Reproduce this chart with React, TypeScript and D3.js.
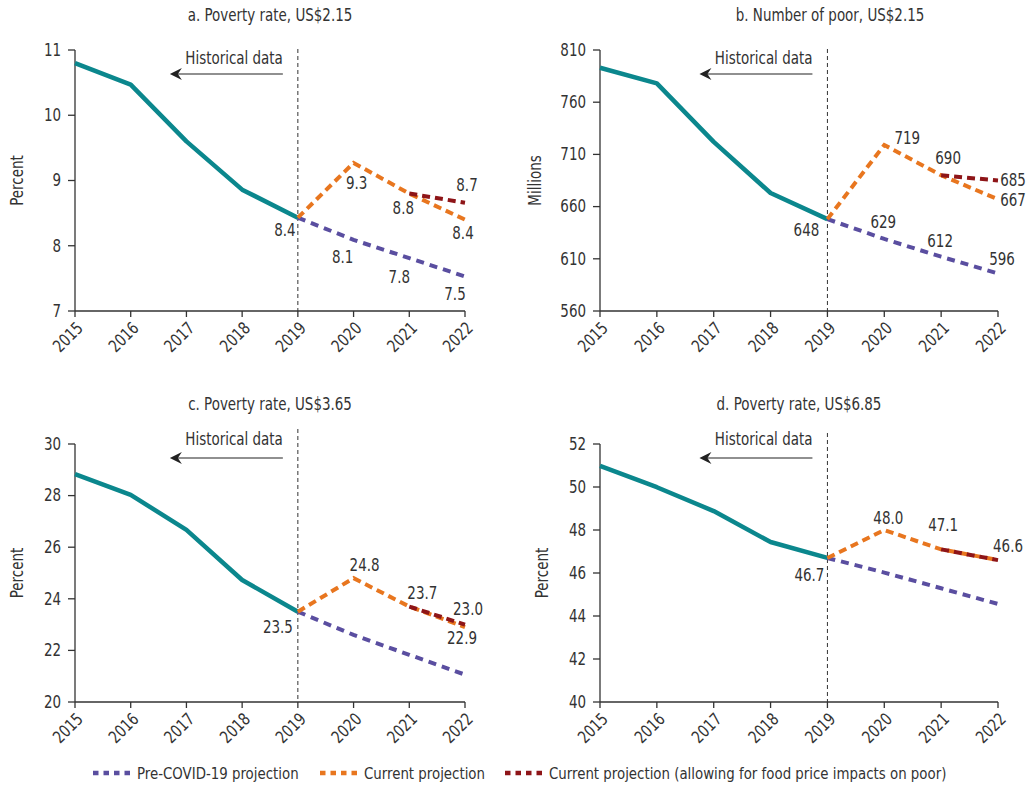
import React from "react";
import * as d3 from "d3";

const years = [2015, 2016, 2017, 2018, 2019, 2020, 2021, 2022];
const histYears = [2015, 2016, 2017, 2018, 2019];
const projYears = [2019, 2020, 2021, 2022];
const foodYears = [2021, 2022];

// Panel a: poverty rate US$2.15 (percent)
const histA = [10.8, 10.47, 9.6, 8.86, 8.43];
const preA = [8.43, 8.09, 7.81, 7.53];
const curA = [8.43, 9.27, 8.8, 8.4];
const foodA = [8.8, 8.66];

// Panel b: number of poor US$2.15 (millions)
const histB = [793, 778, 722, 673, 648];
const preB = [648, 629, 612, 596];
const curB = [648, 719, 690, 667];
const foodB = [690, 685];

// Panel c: poverty rate US$3.65 (percent)
const histC = [28.83, 28.03, 26.67, 24.73, 23.5];
const preC = [23.5, 22.6, 21.83, 21.06];
const curC = [23.5, 24.8, 23.7, 22.9];
const foodC = [23.7, 23.0];

// Panel d: poverty rate US$6.85 (percent)
const histD = [50.98, 49.99, 48.88, 47.44, 46.7];
const preD = [46.7, 46.02, 45.29, 44.56];
const curD = [46.7, 48.0, 47.1, 46.6];
const foodD = [47.1, 46.6];

const ticksA = [7, 8, 9, 10, 11];
const ticksB = [560, 610, 660, 710, 760, 810];
const ticksC = [20, 22, 24, 26, 28, 30];
const ticksD = [40, 42, 44, 46, 48, 50, 52];

const titles = [
  "a. Poverty rate, US$2.15",
  "b. Number of poor, US$2.15",
  "c. Poverty rate, US$3.65",
  "d. Poverty rate, US$6.85",
];
const yTitles = ["Percent", "Millions", "Percent", "Percent"];
const legendLabels = [
  "Pre-COVID-19 projection",
  "Current projection",
  "Current projection (allowing for food price impacts on poor)",
];

const COLORS = {
  hist: "#0b878d",
  pre: "#5a4ea0",
  cur: "#e8761f",
  food: "#8e1518",
  text: "#333333",
};

const FONT = "'DejaVu Sans Condensed', 'DejaVu Sans', sans-serif";
const SX = 0.88;

type Series = "hist" | "pre" | "cur" | "food";
type Lbl = { s: Series; year: number; dx: number; dy: number };

function T({
  x,
  y,
  anchor = "start",
  size = 17,
  rot = 0,
  sx = SX,
  children,
}: {
  x: number;
  y: number;
  anchor?: "start" | "middle" | "end";
  size?: number;
  rot?: number;
  sx?: number;
  children: React.ReactNode;
}) {
  return (
    <g transform={`translate(${x},${y}) rotate(${rot}) scale(${sx},1)`}>
      <text textAnchor={anchor} dominantBaseline="central" fontSize={size} fontFamily={FONT} fill={COLORS.text}>
        {children}
      </text>
    </g>
  );
}

const panels = [
  {
    title: titles[0], titleX: 270, titleY: 15, yTitle: yTitles[0], yTitleX: 17,
    x0: 75, x1: 465, yTop: 50, yBottom: 311, dashTop: 49,
    domain: [7, 11], ticks: ticksA, fmt: ".1f",
    hist: histA, pre: preA, cur: curA, food: foodA,
    labels: [
      { s: "cur", year: 2019, dx: -13, dy: 12 },
      { s: "cur", year: 2020, dx: 3, dy: 20 },
      { s: "cur", year: 2021, dx: -6, dy: 15 },
      { s: "food", year: 2022, dx: 2, dy: -18 },
      { s: "cur", year: 2022, dx: -2, dy: 14 },
      { s: "pre", year: 2020, dx: -11, dy: 17 },
      { s: "pre", year: 2021, dx: -10, dy: 19 },
      { s: "pre", year: 2022, dx: -10, dy: 18 },
    ] as Lbl[],
  },
  {
    title: titles[1], titleX: 830, titleY: 15, yTitle: yTitles[1], yTitleX: 535,
    x0: 600, x1: 998, yTop: 50, yBottom: 311, dashTop: 49,
    domain: [560, 810], ticks: ticksB, fmt: ".0f",
    hist: histB, pre: preB, cur: curB, food: foodB,
    labels: [
      { s: "cur", year: 2019, dx: -21, dy: 11 },
      { s: "cur", year: 2020, dx: 23, dy: -7 },
      { s: "cur", year: 2021, dx: 7, dy: -17 },
      { s: "food", year: 2022, dx: 15, dy: 0 },
      { s: "cur", year: 2022, dx: 15, dy: 1 },
      { s: "pre", year: 2020, dx: -1, dy: -17 },
      { s: "pre", year: 2021, dx: -1, dy: -16 },
      { s: "pre", year: 2022, dx: 4, dy: -14 },
    ] as Lbl[],
  },
  {
    title: titles[2], titleX: 270, titleY: 404, yTitle: yTitles[2], yTitleX: 17,
    x0: 75, x1: 465, yTop: 444, yBottom: 702, dashTop: 429,
    domain: [20, 30], ticks: ticksC, fmt: ".1f",
    hist: histC, pre: preC, cur: curC, food: foodC,
    labels: [
      { s: "cur", year: 2019, dx: -20, dy: 15 },
      { s: "cur", year: 2020, dx: 11, dy: -13 },
      { s: "cur", year: 2021, dx: 13, dy: -13 },
      { s: "food", year: 2022, dx: 3, dy: -15 },
      { s: "cur", year: 2022, dx: -3, dy: 11 },
    ] as Lbl[],
  },
  {
    title: titles[3], titleX: 799, titleY: 404, yTitle: yTitles[3], yTitleX: 542,
    x0: 600, x1: 998, yTop: 444, yBottom: 702, dashTop: 433,
    domain: [40, 52], ticks: ticksD, fmt: ".1f",
    hist: histD, pre: preD, cur: curD, food: foodD,
    labels: [
      { s: "cur", year: 2019, dx: -18, dy: 17 },
      { s: "cur", year: 2020, dx: 4, dy: -12 },
      { s: "food", year: 2021, dx: 2, dy: -24 },
      { s: "food", year: 2022, dx: 10, dy: -14 },
    ] as Lbl[],
  },
];

function Panel({ p }: { p: (typeof panels)[number] }) {
  const x = d3.scaleLinear().domain([2015, 2022]).range([p.x0, p.x1]);
  const y = d3.scaleLinear().domain(p.domain).range([p.yBottom, p.yTop]);
  const line = d3
    .line<[number, number]>()
    .x((d) => x(d[0]))
    .y((d) => y(d[1]));
  const pts = (ys: number[], vs: number[]) => ys.map((yr, i) => [yr, vs[i]] as [number, number]);
  const seriesData: Record<Series, [number, number][]> = {
    hist: pts(histYears, p.hist),
    pre: pts(projYears, p.pre),
    cur: pts(projYears, p.cur),
    food: pts(foodYears, p.food),
  };
  const f = d3.format(p.fmt);
  const x19 = x(2019);
  const arrowY = p.yTop === 50 ? 74 : 458;
  const histTextY = p.yTop === 50 ? 58 : 439;
  const midY = (p.yTop + p.yBottom) / 2;
  return (
    <g>
      <T x={p.titleX} y={p.titleY} anchor="middle">{p.title}</T>
      <T x={p.yTitleX} y={midY} anchor="middle" rot={-90}>{p.yTitle}</T>
      {/* dashed 2019 divider */}
      <line x1={x19} x2={x19} y1={p.dashTop} y2={p.yBottom} stroke="#333" strokeWidth={1} strokeDasharray="4,3" />
      <T x={x19 - 15} y={histTextY} anchor="end">Historical data</T>
      <line x1={x19 - 15} x2={x19 - 122} y1={arrowY} y2={arrowY} stroke="#222" strokeWidth={1.2} />
      <path
        d={`M${x19 - 128},${arrowY} L${x19 - 116},${arrowY - 6} L${x19 - 120},${arrowY} L${x19 - 116},${arrowY + 6} Z`}
        fill="#222"
      />
      {/* axes */}
      <line x1={p.x0} x2={p.x0} y1={p.yTop} y2={p.yBottom} stroke="#333" strokeWidth={1.3} />
      <line x1={p.x0} x2={p.x1} y1={p.yBottom} y2={p.yBottom} stroke="#333" strokeWidth={1.3} />
      {p.ticks.map((t) => (
        <g key={t}>
          <line x1={p.x0 - 7} x2={p.x0} y1={y(t)} y2={y(t)} stroke="#333" strokeWidth={1.3} />
          <T x={p.x0 - 14} y={y(t)} anchor="end">{t}</T>
        </g>
      ))}
      {years.map((yr) => (
        <g key={yr}>
          <line x1={x(yr)} x2={x(yr)} y1={p.yBottom} y2={p.yBottom + 6} stroke="#333" strokeWidth={1.3} />
          <T x={x(yr) + 5} y={p.yBottom + 14} anchor="end" rot={-45}>{yr}</T>
        </g>
      ))}
      {/* series */}
      <path d={line(seriesData.hist) || ""} fill="none" stroke={COLORS.hist} strokeWidth={4.5} strokeLinejoin="round" />
      <path d={line(seriesData.pre) || ""} fill="none" stroke={COLORS.pre} strokeWidth={4} strokeDasharray="8,6" />
      <path d={line(seriesData.cur) || ""} fill="none" stroke={COLORS.cur} strokeWidth={4} strokeDasharray="8,5" />
      <path d={line(seriesData.food) || ""} fill="none" stroke={COLORS.food} strokeWidth={4} strokeDasharray="8,5" />
      {/* data labels */}
      {p.labels.map((l, i) => {
        const d = seriesData[l.s].find((q) => q[0] === l.year)!;
        return (
          <T key={i} x={x(d[0]) + l.dx} y={y(d[1]) + l.dy} anchor="middle">
            {f(d[1])}
          </T>
        );
      })}
    </g>
  );
}

export default function App() {
  const legendColors = [COLORS.pre, COLORS.cur, COLORS.food];
  const legendX = [93, 320, 505];
  const ly = 773;
  return (
    <svg width={1028} height={786} style={{ position: "absolute", left: 0, top: 0, background: "#fff" }}>
      <rect width={1028} height={786} fill="#fff" />
      {panels.map((p, i) => (
        <Panel key={i} p={p} />
      ))}
      {legendLabels.map((lab, i) => (
        <g key={lab}>
          <line
            x1={legendX[i]}
            x2={legendX[i] + 37}
            y1={ly}
            y2={ly}
            stroke={legendColors[i]}
            strokeWidth={4.5}
            strokeDasharray="5.5,5"
          />
          <T x={legendX[i] + 44} y={ly} size={16.5} sx={0.9}>{lab}</T>
        </g>
      ))}
    </svg>
  );
}
